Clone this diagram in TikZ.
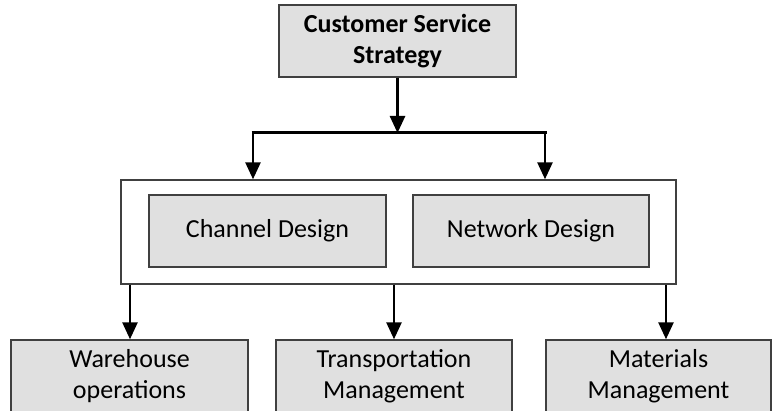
\documentclass[tikz,border=0pt]{standalone}
\usepackage{fontspec}
\setmainfont{Carlito}
\usetikzlibrary{arrows.meta,positioning,calc}

\begin{document}
\begin{tikzpicture}[x=1pt, y=-1pt,
    box/.style={draw=black!75, line width=1.4pt, fill=black!12, inner sep=0pt,
                align=center, minimum height=72pt, font=\fontsize{26}{31}\selectfont},
    frame/.style={draw=black!75, line width=1.4pt, fill=white, inner sep=0pt},
    link/.style={draw=black, line width=2.6pt, -{Triangle[length=17pt,width=15pt]}},
    bar/.style={draw=black, line width=3pt}]
    \clip (0,0) rectangle (772,411);
    \fill[white] (0,0) rectangle (772,411);
        \node[box, minimum width=237pt, font=\fontsize{26}{31}\selectfont\bfseries]
                            (strategy) at (397.5,41)  {Customer Service\\Strategy};
        \node[frame, minimum width=555pt, minimum height=104pt]
                            (design)   at (398.5,232) {};
        \node[box, minimum width=237pt] (channel)   at (267.5,231) {Channel Design};
        \node[box, minimum width=236pt] (network)   at (531,231)   {Network Design};
        \node[box, minimum width=237pt] (warehouse) at (129.5,376) {Warehouse\\operations};
        \node[box, minimum width=236pt] (transport) at (394,376)   {Transportation\\Management};
        \node[box, minimum width=225pt] (materials) at (658.5,376) {Materials\\Management};

        % branch under the strategy
        \coordinate (barL) at (253,133);
        \coordinate (barR) at (545,133);
        \coordinate (mat)  at ([xshift=7.5pt]materials.north);
        \draw[link] (strategy.south) -- (strategy.south |- barL);
        \draw[bar]  ([xshift=-1.5pt]barL) -- ([xshift=1.5pt]barR);
        \draw[link] (barL) -- (barL |- design.north);
        \draw[link] (barR) -- (barR |- design.north);

        % down to the operations
        \draw[link] ([xshift=0.5pt]design.south -| warehouse.north) -- ([xshift=0.5pt]warehouse.north);
        \draw[link] (design.south -| transport.north) -- (transport.north);
        \draw[link] (design.south -| mat) -- (mat);
\end{tikzpicture}
\end{document}
